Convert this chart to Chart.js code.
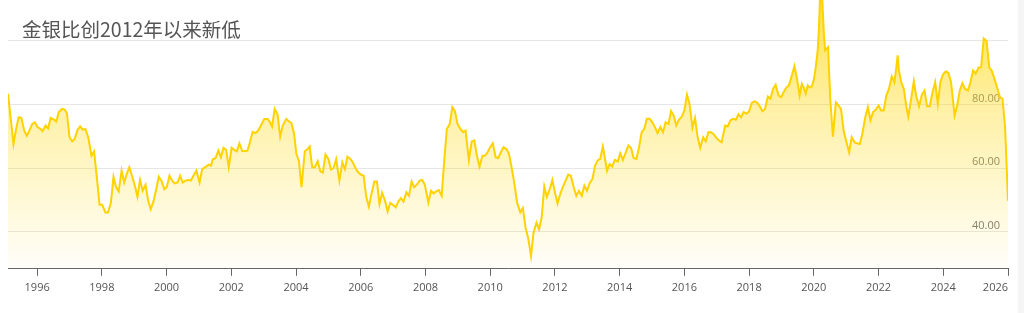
<!DOCTYPE html>
<html>
<head>
<meta charset="utf-8">
<script src="https://cdn.jsdelivr.net/npm/chart.js@4.4.1/dist/chart.umd.min.js"></script>
<style>
  html, body { margin: 0; padding: 0; background: #fff; }
  #wrap { position: relative; width: 1024px; height: 313px; overflow: hidden; }
  #title {
    position: absolute; left: 22px; top: 15px;
    font-family: "Noto Sans CJK SC", "Noto Sans", sans-serif;
    font-size: 19.5px; color: #555; line-height: 28px; white-space: nowrap;
  }
  #edge { position: absolute; right: 0; top: 0; width: 6px; height: 313px; background: #f5f5f5; }
</style>
</head>
<body>
<div id="wrap">
  <canvas id="ratioChart" width="1024" height="313"></canvas>
  <div id="title">金银比创2012年以来新低</div>
  <div id="edge"></div>
</div>
<script>
// 金银比 — decimal year / ratio
const years = [
  1995.10, 1995.27, 1995.35, 1995.43, 1995.51, 1995.60, 1995.68, 1995.76, 1995.85, 1995.93,
  1996.01, 1996.11, 1996.17, 1996.26, 1996.34, 1996.42, 1996.53, 1996.59, 1996.67, 1996.77,
  1996.85, 1996.92, 1997.00, 1997.08, 1997.16, 1997.25, 1997.33, 1997.41, 1997.49, 1997.58,
  1997.68, 1997.76, 1997.84, 1997.93, 1998.01, 1998.11, 1998.19, 1998.28, 1998.36, 1998.44,
  1998.52, 1998.61, 1998.69, 1998.77, 1998.85, 1998.94, 1999.02, 1999.10, 1999.18, 1999.26,
  1999.35, 1999.43, 1999.51, 1999.60, 1999.68, 1999.76, 1999.84, 1999.93, 2000.01, 2000.09,
  2000.17, 2000.25, 2000.34, 2000.42, 2000.50, 2000.58, 2000.67, 2000.75, 2000.83, 2000.92,
  2001.02, 2001.10, 2001.22, 2001.30, 2001.37, 2001.43, 2001.51, 2001.60, 2001.68, 2001.76,
  2001.84, 2001.92, 2002.01, 2002.09, 2002.17, 2002.25, 2002.34, 2002.50, 2002.56, 2002.66,
  2002.75, 2002.83, 2002.93, 2003.02, 2003.12, 2003.18, 2003.26, 2003.34, 2003.43, 2003.51,
  2003.59, 2003.70, 2003.78, 2003.86, 2003.94, 2004.01, 2004.09, 2004.17, 2004.27, 2004.36,
  2004.42, 2004.50, 2004.58, 2004.67, 2004.75, 2004.83, 2004.91, 2005.00, 2005.08, 2005.16,
  2005.24, 2005.34, 2005.43, 2005.51, 2005.59, 2005.68, 2005.76, 2005.84, 2005.92, 2006.00,
  2006.09, 2006.17, 2006.25, 2006.33, 2006.42, 2006.50, 2006.58, 2006.66, 2006.75, 2006.83,
  2006.91, 2006.99, 2007.08, 2007.16, 2007.24, 2007.32, 2007.41, 2007.49, 2007.57, 2007.65,
  2007.73, 2007.82, 2007.90, 2007.98, 2008.09, 2008.17, 2008.25, 2008.33, 2008.41, 2008.50,
  2008.58, 2008.66, 2008.75, 2008.83, 2008.91, 2008.99, 2009.08, 2009.16, 2009.24, 2009.34,
  2009.43, 2009.51, 2009.59, 2009.67, 2009.76, 2009.84, 2009.92, 2010.00, 2010.08, 2010.17,
  2010.25, 2010.33, 2010.41, 2010.50, 2010.58, 2010.66, 2010.75, 2010.83, 2010.93, 2011.01,
  2011.09, 2011.18, 2011.26, 2011.34, 2011.43, 2011.51, 2011.59, 2011.67, 2011.75, 2011.84,
  2011.92, 2012.00, 2012.08, 2012.17, 2012.25, 2012.33, 2012.41, 2012.49, 2012.58, 2012.66,
  2012.74, 2012.83, 2012.91, 2012.99, 2013.07, 2013.16, 2013.24, 2013.32, 2013.40, 2013.48,
  2013.61, 2013.69, 2013.77, 2013.85, 2013.94, 2014.02, 2014.10, 2014.19, 2014.27, 2014.35,
  2014.43, 2014.52, 2014.60, 2014.68, 2014.76, 2014.84, 2014.93, 2015.01, 2015.09, 2015.17,
  2015.26, 2015.34, 2015.42, 2015.51, 2015.59, 2015.67, 2015.75, 2015.83, 2015.92, 2016.00,
  2016.08, 2016.16, 2016.25, 2016.33, 2016.41, 2016.49, 2016.58, 2016.66, 2016.74, 2016.82,
  2016.91, 2016.99, 2017.07, 2017.15, 2017.26, 2017.34, 2017.42, 2017.50, 2017.59, 2017.67,
  2017.75, 2017.83, 2017.92, 2018.00, 2018.08, 2018.16, 2018.24, 2018.33, 2018.41, 2018.49,
  2018.58, 2018.66, 2018.74, 2018.82, 2018.91, 2018.99, 2019.07, 2019.15, 2019.23, 2019.32,
  2019.40, 2019.48, 2019.56, 2019.63, 2019.69, 2019.75, 2019.81, 2019.87, 2019.94, 2020.00,
  2020.06, 2020.12, 2020.16, 2020.22, 2020.31, 2020.35, 2020.44, 2020.51, 2020.59, 2020.68,
  2020.76, 2020.84, 2020.92, 2021.01, 2021.09, 2021.17, 2021.26, 2021.34, 2021.42, 2021.50,
  2021.58, 2021.67, 2021.75, 2021.83, 2021.91, 2022.00, 2022.08, 2022.16, 2022.24, 2022.32,
  2022.41, 2022.49, 2022.55, 2022.59, 2022.63, 2022.70, 2022.78, 2022.86, 2022.92, 2023.00,
  2023.09, 2023.17, 2023.25, 2023.34, 2023.42, 2023.50, 2023.58, 2023.67, 2023.75, 2023.83,
  2023.91, 2023.99, 2024.08, 2024.16, 2024.24, 2024.35, 2024.43, 2024.51, 2024.59, 2024.67,
  2024.76, 2024.84, 2024.92, 2025.00, 2025.09, 2025.17, 2025.25, 2025.34, 2025.42, 2025.50,
  2025.58, 2025.66, 2025.75, 2025.83, 2025.91, 2026.00
];

const ratio = [
  83.4, 67.6, 72.3, 76.0, 75.8, 71.8, 70.2, 71.8, 73.9, 74.4,
  72.9, 72.3, 71.6, 73.4, 72.5, 75.8, 75.2, 74.6, 77.6, 78.6,
  78.4, 77.3, 69.7, 68.4, 69.2, 72.1, 73.1, 72.1, 72.3, 69.7,
  63.9, 65.3, 57.6, 48.5, 48.5, 46.1, 46.1, 49.2, 57.3, 54.0,
  52.7, 59.2, 55.5, 58.2, 60.3, 57.3, 54.5, 51.0, 56.3, 52.9,
  54.8, 49.8, 47.1, 49.8, 53.4, 57.3, 56.1, 53.4, 54.2, 57.6,
  56.1, 55.2, 55.5, 57.6, 55.5, 56.1, 56.3, 56.1, 57.6, 59.2,
  55.5, 59.7, 60.5, 61.1, 60.8, 62.8, 63.1, 65.5, 63.4, 66.4,
  65.7, 60.3, 66.4, 65.7, 65.3, 67.8, 65.3, 65.5, 67.6, 71.4,
  71.0, 71.8, 73.7, 75.4, 75.4, 74.7, 73.1, 78.6, 76.9, 69.9,
  73.4, 75.5, 74.7, 74.1, 70.8, 64.5, 62.2, 54.0, 65.3, 66.0,
  66.8, 60.3, 60.3, 62.2, 59.0, 58.6, 64.3, 62.9, 59.6, 60.0,
  62.8, 56.1, 61.8, 59.7, 63.6, 62.9, 61.7, 60.0, 58.7, 58.0,
  57.6, 51.0, 47.9, 51.9, 55.8, 55.8, 48.7, 52.3, 49.8, 46.4,
  49.1, 48.5, 47.7, 49.5, 50.6, 49.5, 52.4, 51.3, 55.8, 54.0,
  54.8, 56.1, 56.3, 54.8, 49.2, 52.9, 52.1, 52.7, 53.1, 51.3,
  62.4, 72.3, 73.9, 79.2, 77.9, 73.9, 72.3, 71.3, 71.8, 62.6,
  68.4, 68.7, 63.9, 60.5, 63.9, 63.9, 65.0, 66.6, 67.8, 63.4,
  63.2, 65.0, 66.6, 66.0, 64.5, 60.3, 55.0, 49.2, 46.1, 47.5,
  41.4, 37.7, 32.4, 39.8, 42.9, 40.8, 44.5, 54.2, 51.0, 53.4,
  56.3, 52.4, 48.9, 52.1, 54.2, 56.1, 58.0, 57.6, 54.0, 51.3,
  52.9, 51.3, 54.5, 52.9, 55.2, 56.6, 60.8, 62.4, 62.9, 66.8,
  59.2, 61.3, 60.5, 62.6, 62.1, 64.7, 62.6, 65.0, 67.1, 66.4,
  63.2, 62.9, 66.6, 71.3, 72.3, 75.5, 75.5, 74.4, 72.9, 71.0,
  72.9, 71.3, 74.4, 73.9, 77.9, 76.5, 73.4, 75.2, 76.2, 78.1,
  83.1, 80.2, 72.7, 75.8, 69.7, 66.4, 69.7, 68.4, 71.3, 71.3,
  70.6, 69.5, 68.7, 68.1, 73.4, 73.1, 75.0, 75.5, 75.2, 76.9,
  76.0, 77.6, 77.1, 77.9, 80.4, 81.0, 80.7, 79.4, 77.9, 78.5,
  82.5, 81.8, 84.9, 86.2, 82.8, 82.3, 83.9, 85.3, 86.0, 89.1,
  92.0, 88.1, 82.8, 86.5, 85.3, 83.4, 86.0, 85.3, 85.7, 87.8,
  91.7, 97.0, 104.3, 122.0, 102.3, 97.0, 98.0, 81.3, 69.9, 80.7,
  79.7, 78.6, 71.8, 68.1, 65.0, 69.7, 68.1, 67.8, 67.6, 70.8,
  75.5, 79.2, 75.0, 77.6, 78.3, 79.7, 78.1, 78.1, 82.8, 84.9,
  88.8, 87.0, 91.7, 95.4, 90.7, 87.0, 84.9, 79.2, 76.2, 81.3,
  87.3, 82.3, 79.4, 83.1, 84.4, 79.4, 79.4, 83.9, 87.0, 80.2,
  87.0, 89.4, 90.4, 89.9, 87.0, 76.5, 79.7, 84.4, 86.7, 84.9,
  84.4, 87.0, 90.7, 89.7, 91.6, 91.7, 100.7, 99.9, 91.7, 90.5,
  88.1, 85.4, 82.3, 81.8, 72.9, 49.8
];

const xTickYears = [1996, 1998, 2000, 2002, 2004, 2006, 2008, 2010, 2012, 2014, 2016, 2018, 2020, 2022, 2024, 2026];
const yGridValues = [40, 60, 80, 100];
const yLabelValues = [40, 60, 80];
const xMin = 1995.10;
const xMax = 2026;

Chart.defaults.font.family = "'Open Sans', 'Noto Sans', sans-serif";

const ctx = document.getElementById('ratioChart').getContext('2d');

new Chart(ctx, {
    type: 'line',
    data: {
        datasets: [{
            data: years.map((y, i) => ({ x: y, y: ratio[i] })),
            borderColor: '#ffd200',
            borderWidth: 2,
            pointRadius: 0,
            tension: 0,
            fill: 'start',
            backgroundColor: function(context) {
                const area = context.chart.chartArea;
                if (!area) return 'rgba(255,214,0,0.3)';
                const g = context.chart.ctx.createLinearGradient(0, area.top, 0, area.bottom);
                g.addColorStop(0, 'rgba(255,212,0,0.7)');
                g.addColorStop(0.4, 'rgba(255,214,0,0.35)');
                g.addColorStop(1, 'rgba(255,214,0,0.02)');
                return g;
            }
        }]
    },
    options: {
        responsive: false,
        devicePixelRatio: 1,
        animation: false,
        layout: {
            padding: { left: 8, right: 16, top: 0, bottom: 14 }
        },
        plugins: {
            legend: { display: false },
            tooltip: { enabled: false }
        },
        scales: {
            x: {
                type: 'linear',
                min: xMin,
                max: xMax,
                afterBuildTicks: scale => {
                    // a blank tick at the left edge so that 'inner' only pulls the last label in
                    scale.ticks = [{ value: xMin }].concat(xTickYears.map(v => ({ value: v })));
                },
                afterFit: scale => {
                    scale.paddingLeft = 0;
                    scale.paddingRight = 0;
                },
                grid: {
                    drawOnChartArea: false,
                    tickLength: 7,
                    color: '#666',
                    tickColor: c => c.index === 0 ? 'rgba(0,0,0,0)' : '#666'
                },
                border: { color: '#666' },
                ticks: {
                    autoSkip: false,
                    maxRotation: 0,
                    align: 'inner',
                    padding: 5,
                    color: '#555',
                    font: { size: 11 },
                    callback: v => v === xMin ? '' : String(v)
                }
            },
            y: {
                position: 'right',
                min: 28.4,
                max: 112.8,
                afterBuildTicks: scale => {
                    scale.ticks = yGridValues.map(v => ({ value: v }));
                },
                afterFit: scale => {
                    // mirrored labels sit inside the plot, the axis takes no room
                    scale.width = 0;
                    scale.paddingTop = 0;
                    scale.paddingBottom = 0;
                },
                grid: {
                    color: '#e6e6e6',
                    drawTicks: false
                },
                border: { display: false },
                ticks: {
                    mirror: true,
                    padding: -8,
                    labelOffset: -6,
                    color: '#777',
                    font: { size: 11 },
                    callback: v => yLabelValues.includes(v) ? v.toFixed(2) : ''
                }
            }
        }
    }
});
</script>
</body>
</html>
